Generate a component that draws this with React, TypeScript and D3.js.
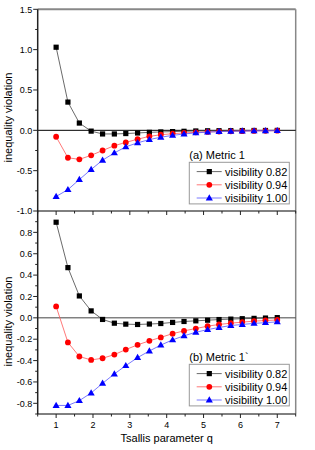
import React from "react";
import * as d3 from "d3";

const qValues = [1.0, 1.32, 1.63, 1.95, 2.26, 2.58, 2.89, 3.21, 3.53, 3.84, 4.16, 4.47, 4.79, 5.11, 5.42, 5.74, 6.05, 6.37, 6.68, 7.0];

const topVis082 = [1.03, 0.35, 0.09, -0.01, -0.045, -0.045, -0.04, -0.033, -0.025, -0.02, -0.016, -0.012, -0.008, -0.006, -0.005, -0.004, -0.003, -0.002, -0.002, -0.001];
const topVis094 = [-0.08, -0.34, -0.36, -0.31, -0.25, -0.19, -0.15, -0.11, -0.075, -0.055, -0.042, -0.032, -0.025, -0.02, -0.016, -0.012, -0.01, -0.008, -0.006, -0.005];
const topVis100 = [-0.82, -0.735, -0.61, -0.485, -0.37, -0.28, -0.205, -0.155, -0.115, -0.085, -0.063, -0.045, -0.032, -0.022, -0.016, -0.012, -0.009, -0.007, -0.005, -0.004];

const botVis082 = [0.895, 0.47, 0.205, 0.065, -0.015, -0.05, -0.059, -0.062, -0.058, -0.053, -0.043, -0.034, -0.028, -0.022, -0.016, -0.012, -0.008, -0.005, -0.002, 0.002];
const botVis094 = [0.107, -0.23, -0.362, -0.394, -0.378, -0.344, -0.297, -0.253, -0.215, -0.183, -0.148, -0.122, -0.1, -0.078, -0.062, -0.05, -0.04, -0.031, -0.025, -0.02];
const botVis100 = [-0.82, -0.82, -0.775, -0.703, -0.613, -0.525, -0.447, -0.372, -0.31, -0.255, -0.206, -0.168, -0.135, -0.11, -0.09, -0.072, -0.062, -0.052, -0.045, -0.038];

const seriesNames = ["visibility 0.82", "visibility 0.94", "visibility 1.00"];
const xTickLabels = ["1", "2", "3", "4", "5", "6", "7"];
const xTickValues = [1, 2, 3, 4, 5, 6, 7];
const xMinorValues = [0.5, 1.5, 2.5, 3.5, 4.5, 5.5, 6.5, 7.5];
const topTickValues = [-1.0, -0.5, 0.0, 0.5, 1.0, 1.5];
const topTickLabels = ["-1.0", "-0.5", "0.0", "0.5", "1.0", "1.5"];
const topMinorValues = [-0.75, -0.25, 0.25, 0.75, 1.25];
const botTickValues = [-0.8, -0.6, -0.4, -0.2, 0.0, 0.2, 0.4, 0.6, 0.8];
const botTickLabels = ["-0.8", "-0.6", "-0.4", "-0.2", "0.0", "0.2", "0.4", "0.6", "0.8"];
const botMinorValues = [-0.9, -0.7, -0.5, -0.3, -0.1, 0.1, 0.3, 0.5, 0.7, 0.9];
const panelTitles = ["(a) Metric 1", "(b) Metric 1`"];

const FONT = "'Liberation Sans', Arial, sans-serif";
const markerColors = ["#000000", "#ff0000", "#0000ff"];
const lineColors = ["#444444", "#ff5555", "#5555ff"];

const X0 = 37.7, X1 = 295.7;
const x = d3.scaleLinear().domain([0.5, 7.5]).range([X0, X1]);
const yTop = d3.scaleLinear().domain([-1.0, 1.5]).range([211, 9.3]);
const yBot = d3.scaleLinear().domain([-0.9, 1.0]).range([414, 211]);

function Marker({ kind, cx, cy }: { kind: number; cx: number; cy: number }) {
  if (kind === 0) return <rect x={cx - 2.6} y={cy - 2.6} width={5.2} height={5.2} fill="#000" />;
  if (kind === 1) return <circle cx={cx} cy={cy} r={2.9} fill="#ff0000" />;
  const s = d3.symbol().type(d3.symbolTriangle).size(22)();
  return <path d={s as string} transform={`translate(${cx},${cy + 0.4})`} fill="#0000ff" />;
}

function Series({ values, kind, y }: { values: number[]; kind: number; y: d3.ScaleLinear<number, number> }) {
  const pts: [number, number][] = qValues.map((q, i) => [q, values[i]]);
  const line = d3.line<[number, number]>().x((d) => x(d[0])).y((d) => y(d[1]));
  return (
    <g>
      <path d={line(pts) as string} fill="none" stroke={lineColors[kind]} strokeWidth={0.8} />
      {pts.map((d, i) => (
        <Marker key={i} kind={kind} cx={x(d[0])} cy={y(d[1])} />
      ))}
    </g>
  );
}

function Legend({ title, top }: { title: string; top: number }) {
  const bx = 189.3, bw = 100, bh = 41.6;
  return (
    <g fontFamily={FONT}>
      <text x={bx} y={top - 3.5} fontSize={11} fill="#000">{title}</text>
      <rect x={bx} y={top} width={bw} height={bh} fill="#fff" stroke="#999" strokeWidth={1} />
      {seriesNames.map((name, i) => {
        const ey = top + 9.3 + 13.2 * i;
        return (
          <g key={i}>
            <line x1={196.7} x2={221.7} y1={ey} y2={ey} stroke={lineColors[i]} strokeWidth={0.8} />
            <Marker kind={i} cx={209.3} cy={ey} />
            <text x={225} y={ey + 4} fontSize={11} fill="#000">{name}</text>
          </g>
        );
      })}
    </g>
  );
}

function YAxis({ y, values, labels, minor, skipTop }: { y: d3.ScaleLinear<number, number>; values: number[]; labels: string[]; minor: number[]; skipTop?: boolean }) {
  return (
    <g fontFamily={FONT}>
      {values.map((v, i) => (
        <g key={i}>
          <line x1={X0 - 4.5} x2={X0} y1={y(v)} y2={y(v)} stroke="#222" strokeWidth={1} />
          <text x={X0 - 5.5} y={y(v) + 3.2} fontSize={9} textAnchor="end" fill="#000">{labels[i]}</text>
        </g>
      ))}
      {minor.map((v, i) => (
        <line key={"m" + i} x1={X0 - 2.5} x2={X0} y1={y(v)} y2={y(v)} stroke="#222" strokeWidth={1} />
      ))}
    </g>
  );
}

function XTicks({ yPos, labels }: { yPos: number; labels: boolean }) {
  return (
    <g fontFamily={FONT}>
      {xTickValues.map((v, i) => (
        <g key={i}>
          <line x1={x(v)} x2={x(v)} y1={yPos} y2={yPos + 4} stroke="#222" strokeWidth={1} />
          {labels && (
            <text x={x(v)} y={yPos + 14} fontSize={9} textAnchor="middle" fill="#000">{xTickLabels[i]}</text>
          )}
        </g>
      ))}
      {xMinorValues.map((v, i) => (
        <line key={"m" + i} x1={x(v)} x2={x(v)} y1={yPos} y2={yPos + 2.5} stroke="#222" strokeWidth={1} />
      ))}
    </g>
  );
}

export default function App() {
  return (
    <div style={{ position: "absolute", left: 0, top: 0 }}>
      <svg width={315} height={450} style={{ display: "block", background: "#fff" }}>
        <rect x={0} y={0} width={315} height={450} fill="#fff" />
        {/* frames */}
        <line x1={X0} x2={X1} y1={yTop(1.5)} y2={yTop(1.5)} stroke="#888" strokeWidth={2} />
        <line x1={X1} x2={X1} y1={yTop(1.5)} y2={yBot(-0.9)} stroke="#888" strokeWidth={1.5} />
        {/* zero lines */}
        <line x1={X0} x2={X1} y1={yTop(0)} y2={yTop(0)} stroke="#000" strokeWidth={1} />
        <line x1={X0} x2={X1} y1={yBot(0)} y2={yBot(0)} stroke="#444" strokeWidth={1} />

        <Series values={topVis082} kind={0} y={yTop} />
        <Series values={topVis094} kind={1} y={yTop} />
        <Series values={topVis100} kind={2} y={yTop} />
        <Series values={botVis082} kind={0} y={yBot} />
        <Series values={botVis094} kind={1} y={yBot} />
        <Series values={botVis100} kind={2} y={yBot} />

        {/* axes */}
        <line x1={X0} x2={X0} y1={yTop(1.5)} y2={yBot(-0.9)} stroke="#222" strokeWidth={1.5} />
        <line x1={X0} x2={X1} y1={yTop(-1)} y2={yTop(-1)} stroke="#000" strokeWidth={1} />
        <line x1={X0} x2={X1} y1={yBot(-0.9)} y2={yBot(-0.9)} stroke="#000" strokeWidth={1} />
        <YAxis y={yTop} values={topTickValues} labels={topTickLabels} minor={topMinorValues} />
        <YAxis y={yBot} values={botTickValues} labels={botTickLabels} minor={botMinorValues} />
        <XTicks yPos={yTop(-1)} labels={false} />
        <XTicks yPos={yBot(-0.9)} labels={true} />

        <text x={166.7} y={442} fontSize={11} textAnchor="middle" fontFamily={FONT} fill="#000">Tsallis parameter q</text>
        <text transform="translate(12,117.5) rotate(-90)" fontSize={11} textAnchor="middle" fontFamily={FONT} fill="#000">inequality violation</text>
        <text transform="translate(12,321.5) rotate(-90)" fontSize={11} textAnchor="middle" fontFamily={FONT} fill="#000">inequality violation</text>

        <Legend title={panelTitles[0]} top={162.3} />
        <Legend title={panelTitles[1]} top={364.3} />
      </svg>
    </div>
  );
}
